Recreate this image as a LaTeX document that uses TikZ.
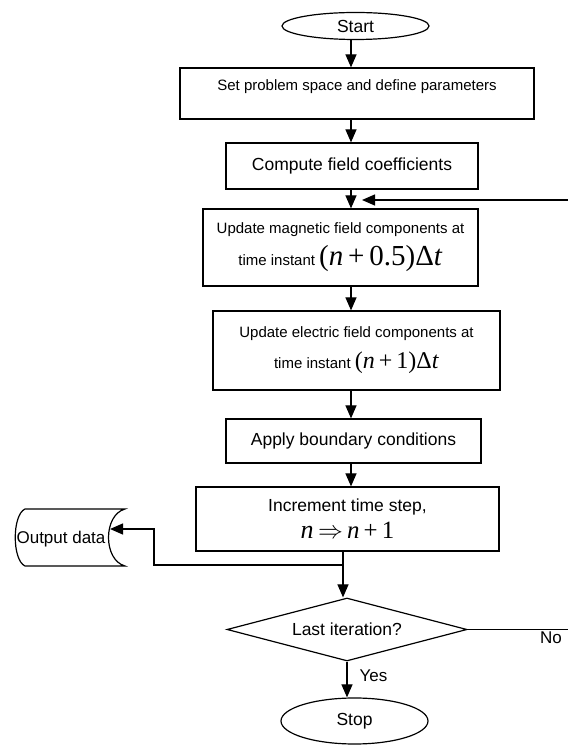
\documentclass[tikz,border=0pt]{standalone}
\usepackage{fontspec}
\setmainfont{Liberation Sans}
\newfontfamily\eqfont{Liberation Serif}
\usetikzlibrary{shapes.geometric,arrows.meta,positioning}
\tikzstyle{block} = [rectangle, draw, line width=1.2pt, text centered, align=center,
    inner sep=0pt, font=\fontsize{17.5}{21}\selectfont]
\tikzstyle{smallblock} = [block, font=\fontsize{15}{19}\selectfont]
\tikzstyle{terminal} = [ellipse, draw, line width=1.2pt, inner sep=0pt,
    minimum width=147pt, font=\fontsize{17.5}{21}\selectfont]
\tikzstyle{decision} = [diamond, draw, line width=1.2pt, aspect=3.8, inner sep=0pt,
    minimum width=240pt, minimum height=63pt, font=\fontsize{17.5}{21}\selectfont]
\tikzstyle{line} = [draw, line width=1.2pt, -{Triangle[length=13pt,width=11pt]}]
\tikzstyle{wire} = [draw, line width=1.2pt]
\tikzstyle{tag} = [font=\fontsize{17}{20}\selectfont]
\newcommand{\eqn}[2]{{\eqfont\fontsize{#1}{#1}\selectfont #2}}

\begin{document}
\begin{tikzpicture}[x=1pt, y=1pt, node distance=70pt, auto]
    \useasboundingbox (0,0) rectangle (568,748);
    % Place nodes
    \node [terminal, minimum height=27pt] (start) at (355.5,722) {Start};
    \node [smallblock, below of=start, node distance=67.5pt, xshift=1.5pt,
        minimum width=354pt, minimum height=51pt] (setup)
        {\raisebox{17pt}{Set problem space and define parameters}};
    \node [block, below of=setup, node distance=72.5pt, xshift=-5pt,
        minimum width=252pt, minimum height=46pt] (coeffs) {Compute field coefficients};
    \node [smallblock, below of=coeffs, node distance=81.5pt, xshift=-11.5pt,
        minimum width=275pt, minimum height=77pt] (hfield)
        {Update magnetic field components at\\[8pt]
         time instant \eqn{29}{(\textit{n}\,+\,0.5)Δ\textit{t}}};
    \node [smallblock, below of=hfield, node distance=103pt, xshift=16pt,
        minimum width=287pt, minimum height=79pt] (efield)
        {Update electric field components at\\[10pt]
         time instant \eqn{24}{(\textit{n}\,+\,1)Δ\textit{t}}};
    \node [block, below of=efield, node distance=90.5pt, xshift=-3pt,
        minimum width=255pt, minimum height=44pt] (boundary) {Apply boundary conditions};
    \node [block, below of=boundary, node distance=78pt, xshift=-6pt,
        minimum width=303pt, minimum height=64pt] (increment)
        {Increment time step,\\[6pt]
         \eqn{26}{\textit{n}\,\fontsize{24.88}{26}\selectfont$\Rightarrow$\,\textit{n}\,+\,1}};
    \node [decision, below of=increment, node distance=110.5pt, xshift=-0.5pt] (last) {Last iteration?};
    \node [terminal, below of=last, node distance=91.5pt, xshift=7.5pt,
        minimum height=46pt] (stop) {Stop};
    \node [tag, inner sep=0pt] (output) at (61,209) {Output data};

    % Helper points
    \coordinate (axis) at (351,0);
    \coordinate (junction) at (343,183);
    \coordinate (bend) at (154,219);
    \coordinate (outin) at (110,219);
    \coordinate (loopin) at (568,548);
    \coordinate (looptip) at (362,548);
    \coordinate (noexit) at (568,118.5);

    % Stored data symbol
    \draw [wire] (25,239) -- (125,239) .. controls (103,233) and (103,188) .. (125,182)
        -- (25,182) .. controls (12,188) and (12,233) .. (25,239) -- cycle;

    \path [line] (start.south -| axis) -- (setup.north -| axis);
    \path [line] (setup.south -| axis) -- (coeffs.north -| axis);
    \path [line] (coeffs.south -| axis) -- (hfield.north -| axis);
    \path [line] (hfield.south -| axis) -- (efield.north -| axis);
    \path [line] (efield.south -| axis) -- (boundary.north -| axis);
    \path [line] (boundary.south -| axis) -- (increment.north -| axis);
    \path [wire] (increment.south -| junction) -- (junction);
    \path [line] (junction) -- (junction |- last.north);
    \path [line] (junction) -| (bend) -- (outin);
    \path [line] (last.south) -- node [tag, right, inner sep=12pt, pos=0.4] (yes) {Yes}
        (last.south |- stop.north);
    \path [wire] (last.east) -- node [tag, below, inner sep=2pt, pos=0.83] (no) {No} (noexit);
    \path [line] (loopin) -- (looptip);
\end{tikzpicture}
\end{document}
